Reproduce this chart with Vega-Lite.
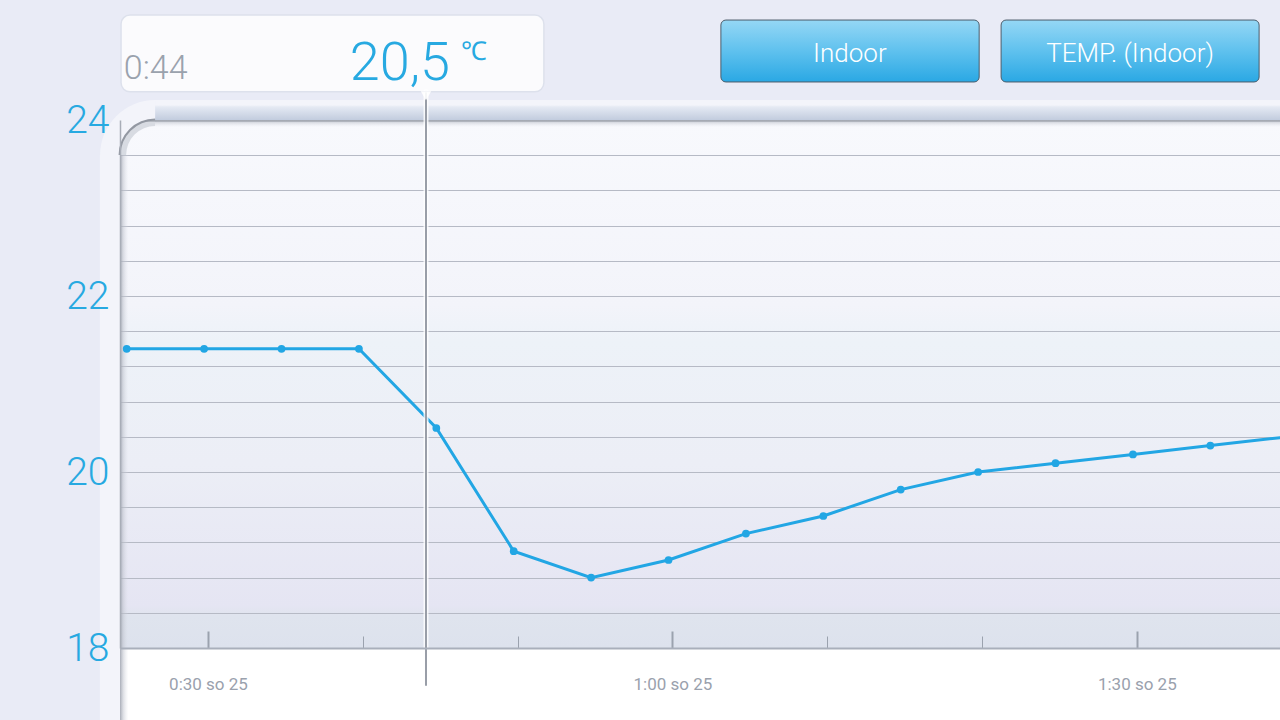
{
  "$schema": "https://vega.github.io/schema/vega-lite/v6.json",
  "width": 1160,
  "height": 528,
  "autosize": "none",
  "padding": {"left": 120, "top": 120, "right": 0, "bottom": 72},
  "background": "#e9ebf6",
  "config": {
    "font": "Roboto",
    "locale": {"number": {"decimal": ",", "thousands": "\u00a0", "grouping": [3], "currency": ["", " Kč"]}},
    "view": {
      "stroke": null,
      "fill": {"gradient": "linear", "x1": 0, "y1": 0, "x2": 0, "y2": 1,
        "stops": [
          {"offset": 0, "color": "#f8f9fd"},
          {"offset": 0.35, "color": "#f3f4fa"},
          {"offset": 0.42, "color": "#edf2f8"},
          {"offset": 0.65, "color": "#eceef6"},
          {"offset": 0.92, "color": "#e5e5f3"},
          {"offset": 0.94, "color": "#dfe4ee"},
          {"offset": 1, "color": "#dde2ed"}
        ]}
    }
  },
  "resolve": {"axis": {"y": "independent"}},
  "datasets": {
    "temps": [
      {"time": "2014-10-25T00:24:45", "value": 21.4},
      {"time": "2014-10-25T00:29:45", "value": 21.4},
      {"time": "2014-10-25T00:34:45", "value": 21.4},
      {"time": "2014-10-25T00:39:45", "value": 21.4},
      {"time": "2014-10-25T00:44:45", "value": 20.5},
      {"time": "2014-10-25T00:49:45", "value": 19.1},
      {"time": "2014-10-25T00:54:45", "value": 18.8},
      {"time": "2014-10-25T00:59:45", "value": 19.0},
      {"time": "2014-10-25T01:04:45", "value": 19.3},
      {"time": "2014-10-25T01:09:45", "value": 19.5},
      {"time": "2014-10-25T01:14:45", "value": 19.8},
      {"time": "2014-10-25T01:19:45", "value": 20.0},
      {"time": "2014-10-25T01:24:45", "value": 20.1},
      {"time": "2014-10-25T01:29:45", "value": 20.2},
      {"time": "2014-10-25T01:34:45", "value": 20.3},
      {"time": "2014-10-25T01:39:45", "value": 20.4}
    ]
  },
  "data": {"name": "temps"},
  "layer": [
    {
      "data": {"values": [{}]},
      "mark": {"type": "rect", "clip": false,
        "fill": {"gradient": "linear", "x1": 0, "y1": 0, "x2": 0, "y2": 1,
          "stops": [{"offset": 0, "color": "#f3f4fa"}, {"offset": 0.25, "color": "#f3f4fa"}, {"offset": 0.35, "color": "#e4e9f3"}, {"offset": 1, "color": "#c2ccde"}]}},
      "encoding": {
        "x": {"datum": {"year": 2014, "month": 10, "date": 25, "hours": 0, "minutes": 26, "seconds": 35}, "type": "temporal"},
        "x2": {"datum": {"year": 2014, "month": 10, "date": 25, "hours": 1, "minutes": 39, "seconds": 15}},
        "y": {"datum": 24.227, "type": "quantitative", "axis": null},
        "y2": {"datum": 24}
      }
    },
    {
      "data": {"values": [{}]},
      "mark": {"type": "rect", "clip": false, "fill": "#f3f4fa"},
      "encoding": {
        "x": {"datum": {"year": 2014, "month": 10, "date": 25, "hours": 0, "minutes": 23, "seconds": 1}, "type": "temporal"},
        "x2": {"datum": {"year": 2014, "month": 10, "date": 25, "hours": 0, "minutes": 24, "seconds": 19}},
        "y": {"datum": 23.602, "type": "quantitative", "axis": null},
        "y2": {"datum": 17.18}
      }
    },
    {
      "data": {"values": [{}]},
      "mark": {"type": "arc", "clip": false, "fill": "#f3f4fa", "innerRadius": 35, "outerRadius": 55, "theta": 4.7124, "theta2": 6.2832},
      "encoding": {
        "x": {"datum": {"year": 2014, "month": 10, "date": 25, "hours": 0, "minutes": 26, "seconds": 35}, "type": "temporal"},
        "y": {"datum": 23.602, "type": "quantitative", "axis": null}
      }
    },
    {
      "data": {"values": [{}]},
      "mark": {"type": "rect", "clip": false, "fill": "#ffffff"},
      "encoding": {
        "x": {"datum": {"year": 2014, "month": 10, "date": 25, "hours": 0, "minutes": 24, "seconds": 19}, "type": "temporal"},
        "x2": {"datum": {"year": 2014, "month": 10, "date": 25, "hours": 1, "minutes": 39, "seconds": 15}},
        "y": {"datum": 18, "type": "quantitative", "axis": null},
        "y2": {"datum": 17.18}
      }
    },
    {
      "data": {"values": [{}]},
      "mark": {"type": "rect", "clip": false,
        "fill": {"gradient": "linear", "x1": 0, "y1": 0, "x2": 1, "y2": 0,
          "stops": [{"offset": 0, "color": "rgba(160,165,176,0.9)"}, {"offset": 0.4, "color": "rgba(190,194,204,0.5)"}, {"offset": 1, "color": "rgba(220,222,230,0)"}]}},
      "encoding": {
        "x": {"datum": {"year": 2014, "month": 10, "date": 25, "hours": 0, "minutes": 24, "seconds": 19}, "type": "temporal"},
        "x2": {"datum": {"year": 2014, "month": 10, "date": 25, "hours": 0, "minutes": 24, "seconds": 52}},
        "y": {"datum": 23.602, "type": "quantitative", "axis": null},
        "y2": {"datum": 17.18}
      }
    },
    {
      "data": {"values": [{}]},
      "mark": {"type": "rect", "clip": false,
        "fill": {"gradient": "linear", "x1": 0, "y1": 0, "x2": 0, "y2": 1,
          "stops": [{"offset": 0, "color": "rgba(170,175,186,0.8)"}, {"offset": 1, "color": "rgba(220,222,230,0)"}]}},
      "encoding": {
        "x": {"datum": {"year": 2014, "month": 10, "date": 25, "hours": 0, "minutes": 26, "seconds": 35}, "type": "temporal"},
        "x2": {"datum": {"year": 2014, "month": 10, "date": 25, "hours": 1, "minutes": 39, "seconds": 15}},
        "y": {"datum": 24, "type": "quantitative", "axis": null},
        "y2": {"datum": 23.92}
      }
    },
    {
      "data": {"values": [{}]},
      "mark": {"type": "arc", "clip": false, "fill": "rgba(190,194,204,0.55)", "innerRadius": 29, "outerRadius": 35, "theta": 4.7124, "theta2": 6.2832},
      "encoding": {
        "x": {"datum": {"year": 2014, "month": 10, "date": 25, "hours": 0, "minutes": 26, "seconds": 35}, "type": "temporal"},
        "y": {"datum": 23.602, "type": "quantitative", "axis": null}
      }
    },
    {
      "data": {"values": [{}]},
      "mark": {"type": "arc", "clip": false, "fill": "#9398a2", "innerRadius": 34.5, "outerRadius": 36.5, "theta": 4.7124, "theta2": 6.2832},
      "encoding": {
        "x": {"datum": {"year": 2014, "month": 10, "date": 25, "hours": 0, "minutes": 26, "seconds": 35}, "type": "temporal"},
        "y": {"datum": 23.602, "type": "quantitative", "axis": null}
      }
    },
    {
      "mark": {"type": "line", "color": "#22a6e4", "strokeWidth": 3, "clip": true},
      "encoding": {
        "x": {
          "field": "time", "type": "temporal",
          "scale": {"domain": [
            {"year": 2014, "month": 10, "date": 25, "hours": 0, "minutes": 24, "seconds": 19},
            {"year": 2014, "month": 10, "date": 25, "hours": 1, "minutes": 39, "seconds": 15}
          ], "nice": false},
          "axis": {
            "title": null,
            "grid": false,
            "values": [
              {"year": 2014, "month": 10, "date": 25, "hours": 0, "minutes": 30},
              {"year": 2014, "month": 10, "date": 25, "hours": 0, "minutes": 40},
              {"year": 2014, "month": 10, "date": 25, "hours": 0, "minutes": 50},
              {"year": 2014, "month": 10, "date": 25, "hours": 1, "minutes": 0},
              {"year": 2014, "month": 10, "date": 25, "hours": 1, "minutes": 10},
              {"year": 2014, "month": 10, "date": 25, "hours": 1, "minutes": 20},
              {"year": 2014, "month": 10, "date": 25, "hours": 1, "minutes": 30}
            ],
            "tickCount": 20,
            "labelExpr": "minutes(datum.value) % 30 == 0 ? timeFormat(datum.value, '%-H:%M') + ' so ' + timeFormat(datum.value, '%-d') : ''",
            "tickSize": {"condition": {"test": "minutes(datum.value) % 30 == 0", "value": -17}, "value": -12},
            "tickWidth": {"condition": {"test": "minutes(datum.value) % 30 == 0", "value": 2}, "value": 1},
            "tickColor": "#9ba2ae",
            "labelPadding": 53,
            "labelBaseline": "middle",
            "labelFontSize": 17,
            "labelColor": "#9aa1ad",
            "labelFont": "Roboto",
            "domainColor": "#a9afbb",
            "domainWidth": 2,
            "labelOverlap": false,
            "labelFlush": false,
            "labelBound": false,
            "zindex": 1
          }
        },
        "y": {
          "field": "value", "type": "quantitative",
          "scale": {"domain": [18, 24], "nice": false, "zero": false},
          "axis": {
            "orient": "left",
            "title": null,
            "values": [18, 18.4, 18.8, 19.2, 19.6, 20, 20.4, 20.8, 21.2, 21.6, 22, 22.4, 22.8, 23.2, 23.6, 24],
            "tickCount": 30,
            "labels": false,
            "ticks": false,
            "domain": false,
            "grid": true,
            "gridColor": {"condition": {"test": "datum.value == 24", "value": "#8e9298"}, "value": "#b6bac5"},
            "gridWidth": {"condition": {"test": "datum.value == 24", "value": 2.5}, "value": 1},
            "zindex": 0
          }
        }
      }
    },
    {
      "mark": {"type": "point", "filled": true, "size": 60, "color": "#22a6e4", "opacity": 1, "clip": true},
      "encoding": {
        "x": {"field": "time", "type": "temporal"},
        "y": {
          "field": "value", "type": "quantitative",
          "axis": {
            "orient": "left",
            "title": null,
            "values": [18, 20, 22, 24],
            "tickCount": 30,
            "format": "d",
            "grid": false,
            "ticks": false,
            "labelPadding": 11,
            "labelFontSize": 39,
            "labelFontWeight": 300,
            "labelFont": "Roboto",
            "labelColor": "#27a9e1",
            "labelBaseline": "middle",
            "domain": true,
            "domainColor": "#a8adb7",
            "domainWidth": 1.5,
            "labelOverlap": false,
            "labelFlush": false,
            "labelBound": false,
            "zindex": 1
          }
        }
      }
    },
    {
      "data": {"values": [{}]},
      "mark": {"type": "rule", "clip": false, "color": "#ffffff", "strokeWidth": 5, "opacity": 0.8, "strokeCap": "round"},
      "encoding": {
        "x": {"datum": {"year": 2014, "month": 10, "date": 25, "hours": 0, "minutes": 44, "seconds": 5}, "type": "temporal"},
        "y": {"datum": 24.32, "type": "quantitative", "axis": null},
        "y2": {"datum": 17.58}
      }
    },
    {
      "data": {"values": [{}]},
      "mark": {"type": "rule", "clip": false, "color": "#999ea8", "strokeWidth": 2, "strokeCap": "round"},
      "encoding": {
        "x": {"datum": {"year": 2014, "month": 10, "date": 25, "hours": 0, "minutes": 44, "seconds": 5}, "type": "temporal"},
        "y": {"datum": 24.32, "type": "quantitative", "axis": null},
        "y2": {"datum": 17.58}
      }
    },
    {
      "data": {"values": [{}]},
      "mark": {"type": "rect", "clip": false, "fill": "#ffffff", "fillOpacity": 0.8, "stroke": "#dde1ec", "strokeWidth": 1.5, "cornerRadius": 9},
      "encoding": {
        "x": {"datum": {"year": 2014, "month": 10, "date": 25, "hours": 0, "minutes": 24, "seconds": 23}, "type": "temporal"},
        "x2": {"datum": {"year": 2014, "month": 10, "date": 25, "hours": 0, "minutes": 51, "seconds": 42}},
        "y": {"datum": 25.193, "type": "quantitative", "axis": null},
        "y2": {"datum": 24.32}
      }
    },
    {
      "data": {"values": [{}]},
      "mark": {"type": "point", "clip": false, "shape": "triangle-down", "filled": true, "fill": "#ffffff", "opacity": 0.9, "size": 110},
      "encoding": {
        "x": {"datum": {"year": 2014, "month": 10, "date": 25, "hours": 0, "minutes": 44, "seconds": 5}, "type": "temporal"},
        "y": {"datum": 24.275, "type": "quantitative", "axis": null}
      }
    },
    {
      "transform": [{"filter": {"field": "time", "timeUnit": "hoursminutes", "equal": {"hours": 0, "minutes": 44}}}],
      "mark": {"type": "text", "clip": false, "align": "left", "baseline": "alphabetic", "fontSize": 34, "fontWeight": 300, "font": "Roboto", "color": "#9aa2ad"},
      "encoding": {
        "x": {"datum": {"year": 2014, "month": 10, "date": 25, "hours": 0, "minutes": 24, "seconds": 34}, "type": "temporal"},
        "y": {"datum": 24.466, "type": "quantitative", "axis": null},
        "text": {"field": "time", "type": "temporal", "format": "%-H:%M"}
      }
    },
    {
      "transform": [{"filter": {"field": "time", "timeUnit": "hoursminutes", "equal": {"hours": 0, "minutes": 44}}}],
      "mark": {"type": "text", "clip": false, "align": "center", "baseline": "alphabetic", "fontSize": 54, "fontWeight": 300, "font": "Roboto", "color": "#27a9e1"},
      "encoding": {
        "x": {"datum": {"year": 2014, "month": 10, "date": 25, "hours": 0, "minutes": 42, "seconds": 24}, "type": "temporal"},
        "y": {"datum": 24.4545, "type": "quantitative", "axis": null},
        "text": {"field": "value", "type": "quantitative", "format": ".1f"}
      }
    },
    {
      "data": {"values": [{"unit": "℃"}]},
      "mark": {"type": "text", "clip": false, "align": "left", "baseline": "alphabetic", "fontSize": 26, "fontWeight": 300, "color": "#27a9e1"},
      "encoding": {
        "x": {"datum": {"year": 2014, "month": 10, "date": 25, "hours": 0, "minutes": 46, "seconds": 20}, "type": "temporal"},
        "y": {"datum": 24.682, "type": "quantitative", "axis": null},
        "text": {"field": "unit"}
      }
    },
    {
      "data": {"values": [{}]},
      "mark": {"type": "rect", "clip": false, "cornerRadius": 5, "stroke": "#4d5d6b", "strokeWidth": 1,
        "fill": {"gradient": "linear", "x1": 0, "y1": 0, "x2": 0, "y2": 1,
          "stops": [{"offset": 0, "color": "#95d7f5"}, {"offset": 0.5, "color": "#5fc1ee"}, {"offset": 1, "color": "#2aa8e4"}]}},
      "encoding": {
        "x": {"datum": {"year": 2014, "month": 10, "date": 25, "hours": 1, "minutes": 3, "seconds": 8}, "type": "temporal"},
        "x2": {"datum": {"year": 2014, "month": 10, "date": 25, "hours": 1, "minutes": 19, "seconds": 49}},
        "y": {"datum": 25.136, "type": "quantitative", "axis": null},
        "y2": {"datum": 24.432}
      }
    },
    {
      "data": {"values": [{"label": "Indoor"}]},
      "mark": {"type": "text", "clip": false, "align": "center", "baseline": "middle", "fontSize": 26, "fontWeight": 300, "font": "Roboto", "color": "#ffffff"},
      "encoding": {
        "x": {"datum": {"year": 2014, "month": 10, "date": 25, "hours": 1, "minutes": 11, "seconds": 28}, "type": "temporal"},
        "y": {"datum": 24.75, "type": "quantitative", "axis": null},
        "text": {"field": "label"}
      }
    },
    {
      "data": {"values": [{}]},
      "mark": {"type": "rect", "clip": false, "cornerRadius": 5, "stroke": "#4d5d6b", "strokeWidth": 1,
        "fill": {"gradient": "linear", "x1": 0, "y1": 0, "x2": 0, "y2": 1,
          "stops": [{"offset": 0, "color": "#95d7f5"}, {"offset": 0.5, "color": "#5fc1ee"}, {"offset": 1, "color": "#2aa8e4"}]}},
      "encoding": {
        "x": {"datum": {"year": 2014, "month": 10, "date": 25, "hours": 1, "minutes": 21, "seconds": 14}, "type": "temporal"},
        "x2": {"datum": {"year": 2014, "month": 10, "date": 25, "hours": 1, "minutes": 37, "seconds": 54}},
        "y": {"datum": 25.136, "type": "quantitative", "axis": null},
        "y2": {"datum": 24.432}
      }
    },
    {
      "data": {"values": [{"label": "TEMP. (Indoor)"}]},
      "mark": {"type": "text", "clip": false, "align": "center", "baseline": "middle", "fontSize": 26, "fontWeight": 300, "font": "Roboto", "color": "#ffffff"},
      "encoding": {
        "x": {"datum": {"year": 2014, "month": 10, "date": 25, "hours": 1, "minutes": 29, "seconds": 34}, "type": "temporal"},
        "y": {"datum": 24.75, "type": "quantitative", "axis": null},
        "text": {"field": "label"}
      }
    }
  ]
}
